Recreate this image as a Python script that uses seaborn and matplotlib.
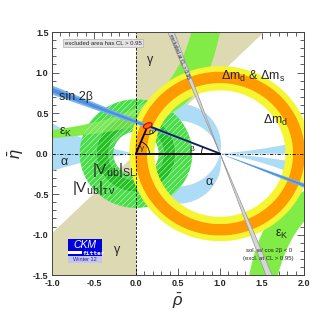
import numpy as np
import pandas as pd
import matplotlib
matplotlib.use("Agg")
import matplotlib.pyplot as plt
from matplotlib.patches import Ellipse, Arc, Rectangle
from matplotlib.ticker import MultipleLocator
import seaborn as sns

# ---------------- data ----------------
rho_ticks = [-1.0, -0.5, 0.0, 0.5, 1.0, 1.5, 2.0]
eta_ticks = [-1.5, -1.0, -0.5, 0.0, 0.5, 1.0, 1.5]
tick_labels_rho = ["-1.0", "-0.5", "0.0", "0.5", "1.0", "1.5", "2.0"]
tick_labels_eta = ["-1.5", "-1.0", "-0.5", "0.0", "0.5", "1.0", "1.5"]
apex = [0.14, 0.345]                      # fitted apex (rho, eta)
gamma_range = [44.5, 90.0]                # deg, angle at (0,0), mod 180
# alpha regions: (side, lo, hi) in degrees (mod 180)
alpha_regions = [("all", 78.0, 102.0), ("left", 0.0, 10.0),
                 ("left", 174.0, 180.0), ("right", 0.0, 4.5),
                 ("right", 171.5, 176.5)]
beta_range = [20.0, 22.8]                 # sin2beta band (deg)
beta_core = [20.7, 22.1]
beta_alt_range = [67.5, 70.0]             # cos2beta < 0 solution (deg)
dmd_ring = [0.78, 1.08]                   # radius around (1,0)
dmd_dms_ring = [0.87, 1.01]
vub_sl_ring = [0.27, 0.47]                # radius around (0,0)
vub_taunu_ring = [0.33, 0.67]
epsk_a = [1.058, 1.29]                    # eta*(a - rho) = c
epsk_c = [0.435, 0.597]

# ---------------- style ----------------
sns.set_theme(style="ticks")
plt.rcParams["font.family"] = ["Liberation Sans", "DejaVu Sans"]
plt.rcParams["mathtext.fontset"] = "custom"
plt.rcParams["mathtext.rm"] = "Liberation Sans"
plt.rcParams["mathtext.it"] = "Liberation Sans:italic"
plt.rcParams["mathtext.bf"] = "Liberation Sans:bold"
plt.rcParams["mathtext.fallback"] = "stixsans"
plt.rcParams["hatch.color"] = "#7fe77f"
plt.rcParams["hatch.linewidth"] = 0.3

fig = plt.figure(figsize=(3.2, 3.2), dpi=100)
ax = fig.add_axes([0.1625, 0.14, 0.7875, 0.76])

rho = np.linspace(-1.0, 2.0, 1201)
eta = np.linspace(-1.5, 1.5, 1201)
R, E = np.meshgrid(rho, eta)
Z = R + 1j * E


def fill(mask, color, z=1, **kw):
    return ax.contourf(R, E, mask.astype(float), levels=[0.5, 1.5],
                       colors=[color], zorder=z, antialiased=True, **kw)


with np.errstate(divide="ignore", invalid="ignore"):
    gam = np.degrees(np.angle(Z)) % 180.0
    alp = np.degrees(np.angle((Z - 1.0) / Z)) % 180.0
    bet = np.degrees(np.arctan(E / (1.0 - R)))
    Ru = np.abs(Z)
    Rt = np.abs(1.0 - Z)
    a1, a2 = epsk_a
    c1, c2 = epsk_c
    pos = (E > 0) & (c1 / E <= a2 - R) & (c2 / E >= a1 - R)
    neg = (E < 0) & (c2 / E <= a2 - R) & (c1 / E >= a1 - R)
epsk_mask = pos | neg

# gamma (tan)
fill((gam >= gamma_range[0]) & (gam <= gamma_range[1]), "#ddd9b3", z=1)
# alpha (light blue)
side = {"all": np.ones_like(R, dtype=bool), "left": R < 0, "right": R > 1}
amask = np.zeros_like(R, dtype=bool)
for s, lo, hi in alpha_regions:
    amask |= side[s] & (alp >= lo) & (alp <= hi)
fill(amask, "#addcf6", z=2)
# epsilon K (green)
fill(epsk_mask, "#80ec45", z=3)
# |Vub| rings
b = sorted(vub_sl_ring + vub_taunu_ring)
fill((Ru >= b[0]) & (Ru <= b[1]), "#4ad84a", z=4, hatches=["//////"])
fill((Ru >= b[1]) & (Ru <= b[2]), "#22c022", z=4, hatches=["//////"])
fill((Ru >= b[2]) & (Ru <= b[3]), "#48de48", z=4, hatches=["//////"])
# epsilon K seen through the |Vub| rings
fill(epsk_mask & (Ru >= b[0]) & (Ru <= b[3]), "#a8f070", z=4.5, alpha=0.55)
# Delta m rings
fill((Rt >= dmd_ring[0]) & (Rt <= dmd_ring[1]), "#f6f532", z=5)
fill((Rt >= dmd_dms_ring[0]) & (Rt <= dmd_dms_ring[1]), "#ff9a00", z=6)
# sin 2beta
fill((bet >= beta_range[0]) & (bet <= beta_range[1]), "#78b4ee", z=7)
fill((bet >= beta_core[0]) & (bet <= beta_core[1]), "#4f8fe0", z=7)
# cos 2beta < 0 solution (grey)
gmask = (bet >= beta_alt_range[0]) & (bet <= beta_alt_range[1])
fill(gmask, "#d6d6d6", z=8)
ax.contour(R, E, gmask.astype(float), levels=[0.5], colors=["#9a9a9a"],
           linewidths=0.5, zorder=8)

# reference lines
ax.axhline(0.0, color="black", lw=0.6, ls=(0, (4, 2, 1, 2)), zorder=9)
ax.axvline(0.0, color="black", lw=0.6, ls=(0, (3, 2)), zorder=9)

# unitarity triangle
tri = pd.DataFrame({"rho": [0.0, apex[0], 1.0, 0.0],
                    "eta": [0.0, apex[1], 0.0, 0.0]})
sns.lineplot(data=tri.iloc[[0, 1]], x="rho", y="eta", sort=False,
             color="black", lw=1.3, ax=ax, zorder=11, estimator=None)
sns.lineplot(data=tri.iloc[[1, 2]], x="rho", y="eta", sort=False,
             color="#0d1f5c", lw=1.3, ax=ax, zorder=11, estimator=None)
sns.lineplot(data=tri.iloc[[2, 3]], x="rho", y="eta", sort=False,
             color="black", lw=1.3, ax=ax, zorder=11, estimator=None)

g_deg = np.degrees(np.arctan2(apex[1], apex[0]))
b_deg = np.degrees(np.arctan2(apex[1], 1 - apex[0]))
ax.add_patch(Arc((0, 0), 0.32, 0.32, theta1=0, theta2=g_deg, lw=0.6,
                 color="black", zorder=11))
ax.add_patch(Arc((1, 0), 0.44, 0.44, theta1=180 - b_deg, theta2=180, lw=0.6,
                 color="black", zorder=11))
ax.add_patch(Arc((apex[0], apex[1]), 0.22, 0.22, theta1=180 + g_deg,
                 theta2=360 - b_deg, lw=0.6, color="black", zorder=11))
ax.add_patch(Ellipse((apex[0], apex[1]), 0.11, 0.06, angle=25,
                     facecolor="#ff6a00", edgecolor="#c00000", lw=0.8,
                     zorder=12))

ax.text(0.075, 0.065, "γ", fontsize=6, ha="center", va="center", zorder=13)
ax.text(apex[0] + 0.04, apex[1] - 0.09, "α", fontsize=6,
        ha="center", va="center", zorder=13)
ax.text(0.66, 0.045, "β", fontsize=6, ha="center", va="center", zorder=13)

# labels of constraints
kw = dict(zorder=14, ha="center", va="center")
ax.text(-0.71, 0.70, "sin 2β", fontsize=9, **kw)
ax.text(-0.84, 0.26, r"$\mathrm{ε}_\mathrm{K}$", fontsize=9, **kw)
ax.text(-0.85, -0.10, "α", fontsize=9, **kw)
ax.text(-0.25, -0.20, r"$|\mathrm{V}_\mathrm{ub}|_\mathrm{SL}$", fontsize=11, **kw)
ax.text(-0.50, -0.43, r"$|\mathrm{V}_\mathrm{ub}|_\mathrm{τ\,ν}$", fontsize=11, **kw)
ax.text(0.17, 1.15, "γ", fontsize=9, **kw)
ax.text(-0.23, -1.19, "γ", fontsize=9, **kw)
ax.text(1.40, 0.95, r"$\mathrm{Δm_d}$ & $\mathrm{Δm_s}$", fontsize=9, **kw)
ax.text(1.66, 0.41, r"$\mathrm{Δm_d}$", fontsize=9, **kw)
ax.text(0.87, -0.35, "α", fontsize=9, **kw)
ax.text(1.74, -1.00, r"$\mathrm{ε}_\mathrm{K}$", fontsize=9, **kw)
ax.text(1.58, -1.20, "sol. w/ cos 2β < 0", fontsize=4.3, **kw)
ax.text(1.58, -1.30, "(excl. at CL > 0.95)", fontsize=4.3, **kw)
ax.text(0.52, 1.20, "excluded at CL > 0.95", fontsize=3.5, rotation=-68,
        ha="center", va="center", zorder=14)

ax.text(0.05, 0.953, "excluded area has CL > 0.95", fontsize=4.3,
        transform=ax.transAxes, ha="left", va="center", zorder=14,
        bbox=dict(boxstyle="square,pad=0.25", facecolor="#e4e4e4",
                  edgecolor="#b0b0b0", lw=0.5))

# CKMfitter logo
ax.add_patch(Rectangle((0.063, 0.103), 0.135, 0.044, transform=ax.transAxes,
                       facecolor="#0000dd", edgecolor="none", zorder=14))
ax.add_patch(Rectangle((0.063, 0.080), 0.135, 0.023, transform=ax.transAxes,
                       facecolor="#0000dd", edgecolor="none", zorder=14))
ax.add_patch(Rectangle((0.063, 0.088), 0.055, 0.010, transform=ax.transAxes,
                       facecolor="white", edgecolor="none", zorder=15))
ax.add_patch(Rectangle((0.063, 0.050), 0.135, 0.028, transform=ax.transAxes,
                       facecolor="#c4c4f2", edgecolor="none", zorder=14))
ax.text(0.13, 0.126, "CKM", fontsize=7.5, style="italic", color="white",
        transform=ax.transAxes, ha="center", va="center", zorder=16)
ax.text(0.165, 0.091, "fitter", fontsize=4.5, weight="bold", color="white",
        family="DejaVu Sans Mono", transform=ax.transAxes, ha="center",
        va="center", zorder=16)
ax.text(0.13, 0.064, "Winter 12", fontsize=4, color="#2020c0",
        transform=ax.transAxes, ha="center", va="center", zorder=16)

# axes
ax.set_xlim(rho_ticks[0], rho_ticks[-1])
ax.set_ylim(eta_ticks[0], eta_ticks[-1])
ax.set_xticks(rho_ticks)
ax.set_xticklabels(tick_labels_rho)
ax.set_yticks(eta_ticks)
ax.set_yticklabels(tick_labels_eta)
ax.xaxis.set_minor_locator(MultipleLocator(0.1))
ax.yaxis.set_minor_locator(MultipleLocator(0.1))
ax.tick_params(which="both", direction="in", top=True, right=True,
               labelsize=6.5, width=0.6, color="#444444", pad=2.5)
ax.tick_params(which="major", length=5)
ax.tick_params(which="minor", length=3)
for lab in ax.get_xticklabels() + ax.get_yticklabels():
    lab.set_fontweight("bold")
for sp in ax.spines.values():
    sp.set_linewidth(0.7)
    sp.set_color("#444444")
    sp.set_zorder(20)
ax.set_xlabel(r"$\bar{\rho}$", fontsize=12, labelpad=3)
ax.set_ylabel(r"$\bar{\eta}$", fontsize=12, labelpad=5)

fig.savefig("out.png", dpi=100)
